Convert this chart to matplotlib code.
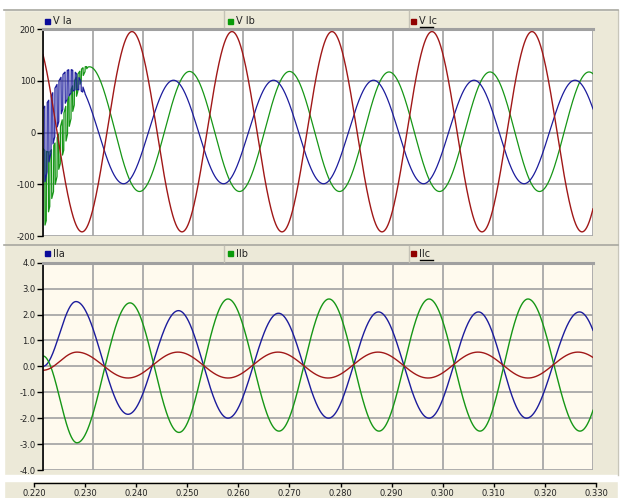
import numpy as np
import matplotlib
matplotlib.use("Agg")
import matplotlib.pyplot as plt
from matplotlib.patches import Rectangle
from matplotlib.lines import Line2D

# ---------------- data ----------------
T_MIN, T_MAX = 0.22, 0.33
x_ticks = [0.220, 0.230, 0.240, 0.250, 0.260, 0.270, 0.280, 0.290, 0.300, 0.310, 0.320, 0.330]
x_tick_labels = ["0.220", "0.230", "0.240", "0.250", "0.260", "0.270", "0.280",
                 "0.290", "0.300", "0.310", "0.320", "0.330"]

v_yticks = [200, 100, 0, -100, -200]
v_ylabels = ["200", "100", "0", "-100", "-200"]
i_yticks = [4.0, 3.0, 2.0, 1.0, 0.0, -1.0, -2.0, -3.0, -4.0]
i_ylabels = ["4.0", "3.0", "2.0", "1.0", "0.0", "-1.0", "-2.0", "-3.0", "-4.0"]

v_names = ["V Ia", "V Ib", "V Ic"]
i_names = ["IIa", "IIb", "IIc"]

# extremes (time, value) of each voltage waveform
va_t = [0.2161, 0.2261, 0.2361, 0.2461, 0.2561, 0.2661, 0.2761, 0.2861, 0.2961, 0.3062, 0.3162, 0.3264, 0.3366]
va_v = [-100, 100, -99, 101, -99, 101, -99, 101, -99, 101, -99, 101, -99]
vb_t = [0.2193, 0.2293, 0.2393, 0.2493, 0.2593, 0.2693, 0.2793, 0.2892, 0.2993, 0.3094, 0.3193, 0.3292, 0.3393]
vb_v = [-114, 127, -114, 118, -114, 118, -114, 117, -114, 117, -114, 117, -114]
vc_t = [0.2178, 0.2278, 0.2378, 0.2478, 0.2578, 0.2678, 0.2778, 0.2878, 0.2978, 0.3078, 0.3178, 0.3278, 0.3378]
vc_v = [195, -192, 195, -192, 195, -192, 195, -192, 195, -192, 195, -192, 195]

# start-up ringing envelope (half amplitude) of Va and Vb
va_osc_t = [0.2200, 0.2215, 0.2230, 0.2245, 0.2260, 0.2275, 0.2285]
va_osc = [80, 55, 40, 30, 20, 10, 0]
vb_osc_t = [0.2200, 0.2215, 0.2230, 0.2245, 0.2260, 0.2275, 0.2290]
vb_osc = [80, 50, 35, 35, 25, 12, 0]

# extremes of each current waveform
ia_t = [0.2200, 0.2266, 0.2370, 0.2471, 0.2570, 0.2671, 0.2771, 0.2871, 0.2972, 0.3071, 0.3167, 0.3273, 0.3372]
ia_v = [0.0, 2.5, -1.85, 2.15, -2.0, 2.05, -2.0, 2.1, -2.0, 2.1, -2.0, 2.1, -2.0]
ib_t = [0.2200, 0.2268, 0.2374, 0.2472, 0.2570, 0.2672, 0.2772, 0.2872, 0.2972, 0.3074, 0.3170, 0.3274, 0.3374]
ib_v = [0.4, -2.95, 2.45, -2.55, 2.6, -2.5, 2.6, -2.5, 2.6, -2.5, 2.6, -2.5, 2.6]
ic_t = [0.2200, 0.2268, 0.2370, 0.2470, 0.2570, 0.2670, 0.2770, 0.2870, 0.2970, 0.3070, 0.3170, 0.3270, 0.3370]
ic_v = [-0.15, 0.55, -0.45, 0.55, -0.45, 0.55, -0.45, 0.55, -0.45, 0.55, -0.45, 0.55, -0.45]

# ---------------- styling ----------------
BG = "#ECE9D8"
BLUE, GREEN, RED = "#1c1c9c", "#169616", "#a01818"
SQ = ["#0a0a9a", "#0a9a0a", "#900000"]
GRID = "#a8a8a8"
W, H = 620, 498


def fx(x):
    return x / W


def fy(y):
    return 1 - y / H


def wave(tt, vv, t):
    tt = np.asarray(tt, float)
    vv = np.asarray(vv, float)
    idx = np.clip(np.searchsorted(tt, t) - 1, 0, len(tt) - 2)
    f = (t - tt[idx]) / (tt[idx + 1] - tt[idx])
    return vv[idx] + (vv[idx + 1] - vv[idx]) * (1 - np.cos(np.pi * f)) / 2


def ringing(env_t, env, t, half=0.0004):
    amp = np.interp(t, env_t, env, right=0.0)
    sgn = np.where((np.floor((t - T_MIN) / half) % 2) == 0, 1.0, -1.0)
    return amp * sgn


t = np.linspace(T_MIN, T_MAX, 2201)

fig = plt.figure(figsize=(W / 100, H / 100), dpi=100)
fig.patch.set_facecolor(BG)

# white margins of the screenshot
fig.add_artist(Rectangle((0, fy(10)), 1, 10 / H, transform=fig.transFigure, color="white", zorder=0))
fig.add_artist(Rectangle((0, 0), fx(4), 1, transform=fig.transFigure, color="white", zorder=0))
fig.add_artist(Rectangle((0, fy(481)), 1, 6 / H, transform=fig.transFigure, color="white", zorder=0))
fig.add_artist(Rectangle((fx(618), 0), 2 / W, 1, transform=fig.transFigure, color="white", zorder=0))
fig.add_artist(Line2D([fx(618), fx(618)], [fy(475), fy(10)], transform=fig.transFigure, color="#c8c6ba", lw=1))


def header(y_line, y_text, names):
    fig.add_artist(Line2D([fx(4), fx(618)], [fy(y_line), fy(y_line)], transform=fig.transFigure,
                          color="#a8a8a0", lw=1.2))
    for xs in (224, 409):
        fig.add_artist(Line2D([fx(xs), fx(xs)], [fy(y_line + 1), fy(y_line + 17)],
                              transform=fig.transFigure, color="#c4c2b6", lw=1.0))
    xs_sq = [45, 228, 411]
    for i, (x0, nm) in enumerate(zip(xs_sq, names)):
        fig.add_artist(Rectangle((fx(x0), fy(y_text + 2.5)), 5 / W, 5 / H, transform=fig.transFigure,
                                 color=SQ[i]))
        fig.text(fx(x0 + 8), fy(y_text), nm, fontsize=7, va="center", ha="left", color="#222222")
    # underline on the selected (third) entry
    fig.add_artist(Line2D([fx(420), fx(433)], [fy(y_text + 6), fy(y_text + 6)], transform=fig.transFigure,
                          color="black", lw=1.0))


def style_axes(ax, face, yt, yl, ylim):
    ax.set_facecolor(face)
    ax.set_xlim(T_MIN, T_MAX)
    ax.set_ylim(*ylim)
    ax.set_xticks(x_ticks)
    ax.set_yticks(yt)
    ax.set_yticklabels(yl, fontsize=6, color="#222222")
    ax.tick_params(axis="x", length=0, labelbottom=False)
    ax.tick_params(axis="y", length=4, width=1, pad=1.5, color="black")
    ax.grid(True, color=GRID, lw=1.3)
    ax.set_axisbelow(True)
    for s in ("right", "bottom"):
        ax.spines[s].set_visible(False)
    ax.spines["top"].set_color("#a0a0a0")
    ax.spines["top"].set_linewidth(2.2)
    ax.spines["left"].set_color("black")
    ax.spines["left"].set_linewidth(1.2)


# ---------------- voltages ----------------
header(10, 21.5, v_names)
ax1 = fig.add_axes([fx(43), fy(236), 550 / W, 207 / H])
style_axes(ax1, "white", v_yticks, v_ylabels, (-200, 200))
va = wave(va_t, va_v, t) + ringing(va_osc_t, va_osc, t)
vb = wave(vb_t, vb_v, t) + ringing(vb_osc_t, vb_osc, t, half=0.00035)
vc = wave(vc_t, vc_v, t)
ax1.plot(t, vb, color=GREEN, lw=0.9)
ax1.plot(t, va, color=BLUE, lw=0.9)
ax1.plot(t, vc, color=RED, lw=1.0)

# ---------------- currents ----------------
header(245, 254, i_names)
ax2 = fig.add_axes([fx(43), fy(470), 550 / W, 207.3 / H])
style_axes(ax2, "#fffaee", i_yticks, i_ylabels, (-4.0, 4.0))
ax2.plot(t, wave(ia_t, ia_v, t), color=BLUE, lw=1.0)
ax2.plot(t, wave(ib_t, ib_v, t), color=GREEN, lw=1.0)
ax2.plot(t, wave(ic_t, ic_v, t), color=RED, lw=1.0)

# ---------------- shared time axis strip ----------------
ax3 = fig.add_axes([fx(34), fy(483), 562 / W, 0.0001])
ax3.set_facecolor("none")
ax3.set_xlim(T_MIN, T_MAX)
ax3.set_xticks(x_ticks)
ax3.set_xticklabels(x_tick_labels, fontsize=6, color="#222222")
ax3.set_yticks([])
for s in ("top", "left", "right"):
    ax3.spines[s].set_visible(False)
ax3.spines["bottom"].set_linewidth(1.0)
ax3.tick_params(axis="x", length=3, width=1, pad=1, direction="out")

fig.savefig("out.png", dpi=100, facecolor=fig.get_facecolor())
